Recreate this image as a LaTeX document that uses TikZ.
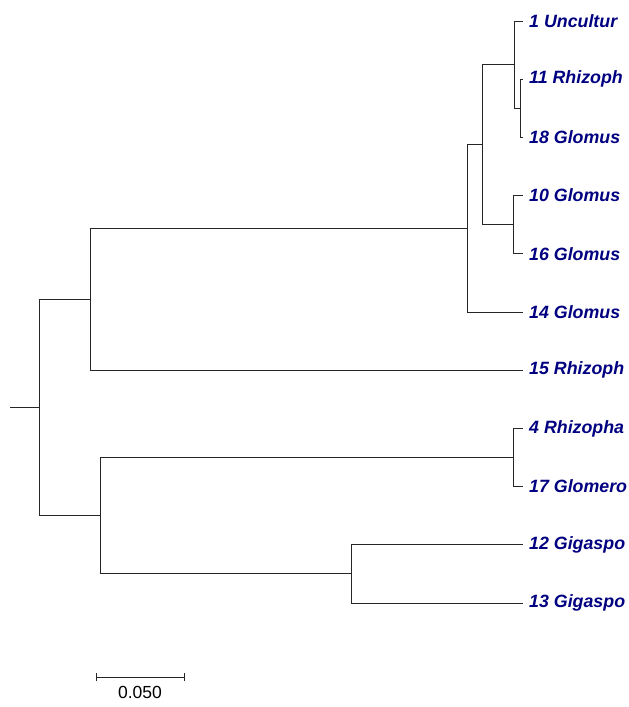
\documentclass[tikz,border=0pt]{standalone}
\usepackage{fontspec}
\setmainfont{Liberation Sans}
\definecolor{labblue}{HTML}{000080}
\begin{document}
\begin{tikzpicture}[x=1pt,y=-1pt,
  branch/.style={line width=1pt,draw=black!85},
  lab/.style={anchor=west,inner sep=0pt,text=labblue,font=\fontsize{17.8}{20}\selectfont\bfseries\itshape},
  scalelab/.style={inner sep=0pt,font=\fontsize{17.5}{20}\selectfont}]
\useasboundingbox (0,0) rectangle (629,707);
% tips
\coordinate (t1) at (523,21);
\coordinate (t11) at (523,79.2);
\coordinate (t18) at (523,137.4);
\coordinate (t10) at (523,195.6);
\coordinate (t16) at (523,253.8);
\coordinate (t14) at (523,312);
\coordinate (t15) at (523,370.2);
\coordinate (t4) at (523,428.4);
\coordinate (t17) at (523,486.6);
\coordinate (t12) at (523,544.8);
\coordinate (t13) at (523,603);
% internal nodes
\coordinate (n1118) at (520,108.3);
\coordinate (nA) at (514,64.6);
\coordinate (n1016) at (513,224.7);
\coordinate (nB) at (482,144.6);
\coordinate (nC) at (467,228.3);
\coordinate (nD) at (90,299.3);
\coordinate (n417) at (513,457.5);
\coordinate (n1213) at (351,573.9);
\coordinate (nE) at (100,515.7);
\coordinate (root) at (39,407.5);
\coordinate (stub) at (10,407.5);
% branches
\draw[branch] (n1118) |- (t11);
\draw[branch] (n1118) |- (t18);
\draw[branch] (nA) |- (t1);
\draw[branch] (nA) |- (n1118);
\draw[branch] (n1016) |- (t10);
\draw[branch] (n1016) |- (t16);
\draw[branch] (nB) |- (nA);
\draw[branch] (nB) |- (n1016);
\draw[branch] (nC) |- (nB);
\draw[branch] (nC) |- (t14);
\draw[branch] (nD) |- (nC);
\draw[branch] (nD) |- (t15);
\draw[branch] (n417) |- (t4);
\draw[branch] (n417) |- (t17);
\draw[branch] (n1213) |- (t12);
\draw[branch] (n1213) |- (t13);
\draw[branch] (nE) |- (n417);
\draw[branch] (nE) |- (n1213);
\draw[branch] (root) |- (nD);
\draw[branch] (root) |- (nE);
\draw[branch] (stub) -- (root);
% labels
\node[lab] (l1) at (529,21) {1 Uncultur};
\node[lab] (l11) at (529,79.2) {11 Rhizoph};
\node[lab] (l18) at (529,137.4) {18 Glomus};
\node[lab] (l10) at (529,195.6) {10 Glomus};
\node[lab] (l16) at (529,253.8) {16 Glomus};
\node[lab] (l14) at (529,312) {14 Glomus};
\node[lab] (l15) at (529,370.2) {15 Rhizoph};
\node[lab] (l4) at (529,428.4) {4 Rhizopha};
\node[lab] (l17) at (529,486.6) {17 Glomero};
\node[lab] (l12) at (529,544.8) {12 Gigaspo};
\node[lab] (l13) at (529,603) {13 Gigaspo};
% scale bar
\coordinate (s1) at (96,677);
\coordinate (s2) at (184,677);
\draw[branch] (s1) -- (s2);
\draw[branch] ([yshift=-4pt]s1) -- ([yshift=4pt]s1);
\draw[branch] ([yshift=-4pt]s2) -- ([yshift=4pt]s2);
\node[scalelab] (sl) at (140,692) {0.050};
\end{tikzpicture}
\end{document}
